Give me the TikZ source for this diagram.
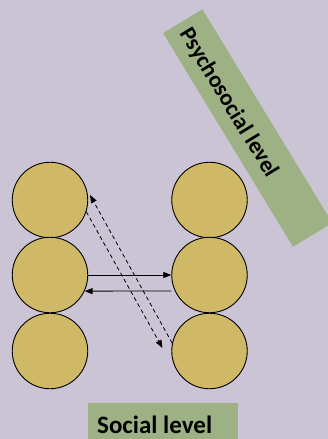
\documentclass[tikz,border=0pt]{standalone}
\usepackage{fontspec}
\setmainfont{Carlito}
\usetikzlibrary{arrows.meta,calc}
\definecolor{bgc}{RGB}{202,196,212}
\definecolor{ballc}{RGB}{207,185,103}
\definecolor{greenc}{RGB}{157,177,133}
\begin{document}
\begin{tikzpicture}[x=1pt,y=-1pt,
  ball/.style={circle,draw=black,line width=0.9pt,fill=ballc,minimum size=75.5pt,inner sep=0pt},
  conn/.style={line width=0.8pt,-{Triangle[length=8pt,width=6pt]}},
  dconn/.style={conn,dash pattern=on 4pt off 3pt},
  band/.style={fill=greenc,inner sep=0pt}]
\fill[bgc] (0,0) rectangle (328,439);
\useasboundingbox (0,0) rectangle (328,439);
% psychosocial band
\node[band,minimum width=250pt,minimum height=46pt,rotate=-58.7] (pband) at (247.7,128) {};
\node[rotate=-58.7,inner sep=0pt] (ptext) at (229,103) {\fontsize{23}{27}\selectfont\bfseries Psychosocial level};
% social band
\node[band,anchor=north west,minimum width=150pt,minimum height=40pt] (sband) at (88,403) {};
\node[anchor=base west,inner sep=0pt] (stext) at (97,433) {\fontsize{25}{30}\selectfont\bfseries Social level};
% balls
\node[ball] (L1) at (50,200) {};
\node[ball] (L2) at (50,275) {};
\node[ball] (L3) at (50,351) {};
\node[ball] (R1) at (209.5,200) {};
\node[ball] (R2) at (209.5,275) {};
\node[ball] (R3) at (209.5,351) {};
% connectors
\draw[conn] (L2.east) -- (R2.west);
\draw[conn] ([yshift=-16pt]R2.west) -- (L2.-25);
\draw[dconn] (R3.168) -- ($(L1.center)+(40,-5)$);
\draw[dconn] (L1.-18) -- ($(R3.center)+(-47,-3)$);
\end{tikzpicture}
\end{document}
